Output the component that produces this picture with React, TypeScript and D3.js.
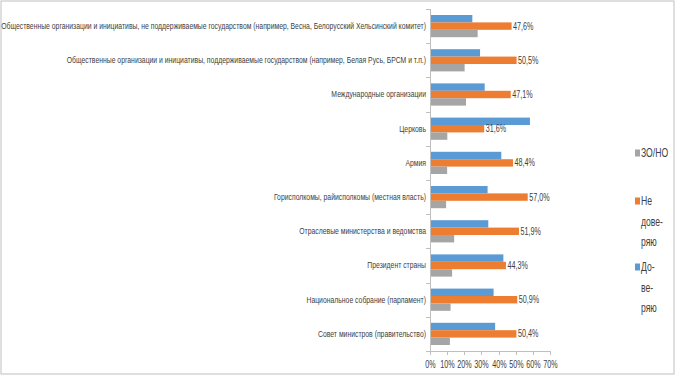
import React from 'react';
import * as d3 from 'd3';

const categories = [
  'Общественные организации и инициативы, не поддерживаемые государством  (например, Весна, Белорусский Хельсинский комитет)',
  'Общественные организации и инициативы, поддерживаемые государством (например, Белая Русь, БРСМ и т.п.)',
  'Международные организации',
  'Церковь',
  'Армия',
  'Горисполкомы, райисполкомы (местная власть)',
  'Отраслевые министерства и ведомства',
  'Президент страны',
  'Национальное собрание (парламент)',
  'Совет министров (правительство)',
];

const trust = [24.7, 29.2, 31.9, 58.3, 41.6, 33.6, 34.0, 42.8, 37.1, 38.0];
const distrust = [47.6, 50.5, 47.1, 31.6, 48.4, 57.0, 51.9, 44.3, 50.9, 50.4];
const noAnswer = [27.8, 20.2, 21.0, 10.1, 10.0, 9.4, 14.1, 12.9, 12.0, 11.6];

const xTicks = [0, 10, 20, 30, 40, 50, 60, 70];

const seriesKeys = ['trust', 'distrust', 'na'];
const seriesColors: Record<string, string> = { trust: '#5B9BD5', distrust: '#ED7D31', na: '#A5A5A5' };

const legendItems = [
  { key: 'na', lines: ['ЗО/НО'] },
  { key: 'distrust', lines: ['Не', 'дове-', 'ряю'] },
  { key: 'trust', lines: ['До-', 'ве-', 'ряю'] },
];

const W = 676;
const H = 384;
const SQ = 0.72; // horizontal squeeze of all text
const textColor = '#404040';
const axisColor = '#BFBFBF';
const font = '"Liberation Sans", Arial, sans-serif';

const pct = (v: number) => d3.format('.1f')(v).replace('.', ',') + '%';

export default function App() {
  const x = d3.scaleLinear().domain([0, 70]).range([430, 550]);
  const y = d3.scaleBand<number>().domain(d3.range(categories.length)).range([9, 351]).padding(0);
  const inner = d3.scaleBand<string>().domain(seriesKeys).range([0, y.bandwidth()]).paddingInner(0).paddingOuter(0.81);

  const values: Record<string, number[]> = { trust, distrust, na: noAnswer };
  const x0 = x(0);
  const yBottom = y.range()[1];

  return (
    <svg width={W} height={H} style={{ position: 'absolute', left: 0, top: 0 }} fontFamily={font}>
      <rect x={0} y={0} width={W} height={H} fill="#fff" />
      <rect x={1} y={1} width={673} height={373} fill="none" stroke="#BFBFBF" strokeWidth={1} />

      {/* bars */}
      {categories.map((c, i) => (
        <g key={c} transform={`translate(0,${y(i)})`}>
          {seriesKeys.map(k => (
            <rect key={k} x={x0} y={inner(k)} width={x(values[k][i]) - x0} height={inner.bandwidth()} fill={seriesColors[k]} />
          ))}
          <text
            transform={`translate(${x(distrust[i]) + 1.5},${(inner('distrust') ?? 0) + inner.bandwidth() / 2}) scale(${SQ},1)`}
            fontSize={10}
            fill={textColor}
            dominantBaseline="central"
          >
            {pct(distrust[i])}
          </text>
          <text
            transform={`translate(426,${y.bandwidth() / 2}) scale(${SQ},1)`}
            fontSize={9.5}
            fill={textColor}
            textAnchor="end"
            dominantBaseline="central"
          >
            {c}
          </text>
        </g>
      ))}

      {/* category axis */}
      <line x1={x0 + 0.5} x2={x0 + 0.5} y1={y.range()[0]} y2={yBottom} stroke={axisColor} />
      {d3.range(categories.length + 1).map(i => {
        const ty = Math.round(y.range()[0] + i * y.step()) + 0.5;
        return <line key={i} x1={x0 - 4} x2={x0} y1={ty} y2={ty} stroke={axisColor} />;
      })}

      {/* value axis */}
      <line x1={x0} x2={x(70)} y1={yBottom + 0.5} y2={yBottom + 0.5} stroke={axisColor} />
      {xTicks.map(t => (
        <g key={t} transform={`translate(${Math.round(x(t)) + 0.5},${yBottom})`}>
          <line y1={0} y2={4} stroke={axisColor} />
          <text transform={`translate(0,17) scale(${SQ},1)`} fontSize={10} fill={textColor} textAnchor="middle">
            {t}%
          </text>
        </g>
      ))}

      {/* legend */}
      {legendItems.map((item, li) => {
        const top = [153, 201, 267][li];
        return (
          <g key={item.key}>
            <rect x={635} y={top - 3.5} width={5} height={7} fill={seriesColors[item.key]} />
            {item.lines.map((ln, j) => (
              <text
                key={j}
                transform={`translate(641,${top + j * 20.5}) scale(${SQ},1)`}
                fontSize={12}
                fill={textColor}
                dominantBaseline="central"
              >
                {ln}
              </text>
            ))}
          </g>
        );
      })}
    </svg>
  );
}
